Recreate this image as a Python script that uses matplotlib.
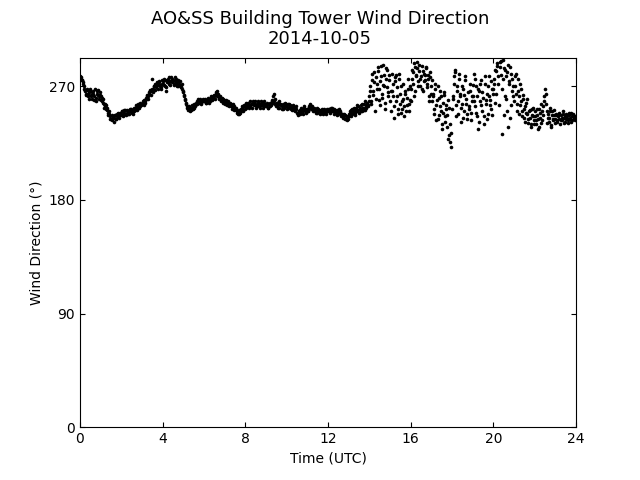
import numpy as np
import matplotlib
matplotlib.use("Agg")
import matplotlib.pyplot as plt

# wind direction (deg), one row per hour (UTC)
# "a" rows: readings on the 3-minute marks, "b" rows: readings 1.5 minutes later
h00a = [278, 276, 275, 272, 268, 266, 264, 267, 262, 265, 268, 263, 260, 266, 262, 258, 264, 267, 262, 265]
h01a = [262, 258, 260, 256, 254, 255, 251, 249, 250, 246, 244, 243, 246, 245, 247, 244, 248, 246, 247, 249]
h02a = [248, 250, 247, 249, 251, 249, 248, 250, 252, 250, 249, 251, 253, 251, 252, 254, 253, 255, 254, 256]
h03a = [256, 257, 259, 258, 261, 263, 262, 265, 267, 266, 276, 268, 270, 272, 269, 271, 273, 270, 268, 272]
h04a = [274, 271, 275, 266, 273, 276, 272, 274, 277, 273, 275, 271, 274, 276, 272, 270, 273, 271, 269, 268]
h05a = [265, 262, 259, 256, 254, 252, 253, 251, 252, 254, 253, 255, 256, 258, 257, 259, 258, 257, 259, 258]
h06a = [258, 259, 257, 259, 258, 260, 259, 261, 260, 262, 261, 263, 265, 262, 263, 260, 259, 258, 260, 257]
h07a = [258, 256, 257, 255, 256, 257, 254, 255, 253, 254, 252, 251, 249, 250, 248, 251, 252, 253, 251, 254]
h08a = [255, 253, 256, 257, 255, 254, 256, 258, 257, 255, 253, 256, 257, 254, 256, 258, 255, 257, 254, 256]
h09a = [254, 256, 253, 255, 257, 256, 259, 262, 258, 256, 254, 257, 255, 253, 256, 254, 252, 255, 257, 254]
h10a = [255, 253, 256, 254, 252, 253, 255, 251, 253, 252, 249, 247, 250, 251, 249, 252, 250, 253, 251, 250]
h11a = [252, 250, 254, 255, 253, 252, 253, 250, 251, 249, 252, 250, 248, 251, 249, 250, 252, 249, 251, 250]
h12a = [250, 252, 249, 251, 253, 250, 248, 251, 249, 247, 250, 252, 249, 246, 248, 245, 247, 244, 243, 246]
h13a = [248, 250, 246, 252, 249, 251, 247, 253, 250, 254, 249, 252, 255, 250, 253, 256, 251, 254, 257, 255]
h14a = [262, 270, 258, 275, 266, 281, 260, 272, 285, 268, 255, 278, 264, 287, 270, 252, 276, 283, 265, 279]
h15a = [258, 250, 266, 272, 254, 277, 279, 262, 248, 276, 256, 270, 252, 260, 246, 264, 255, 268, 250, 259]
h16a = [268, 276, 281, 262, 285, 279, 289, 274, 282, 270, 278, 286, 266, 280, 275, 284, 272, 279, 262, 277]
h17a = [270, 258, 264, 248, 272, 255, 244, 261, 266, 250, 240, 257, 263, 246, 252, 238, 259, 231, 226, 222]
h18a = [252, 262, 278, 283, 246, 270, 258, 280, 264, 242, 256, 268, 250, 275, 260, 244, 254, 266, 249, 258]
h19a = [262, 280, 254, 270, 246, 236, 266, 258, 275, 250, 261, 240, 272, 256, 264, 248, 278, 259, 252, 268]
h20a = [268, 276, 257, 282, 286, 272, 289, 279, 232, 291, 284, 262, 278, 250, 287, 274, 245, 280, 266, 270]
h21a = [258, 278, 264, 250, 276, 262, 255, 268, 246, 260, 252, 242, 257, 248, 244, 251, 240, 247, 253, 243]
h22a = [246, 240, 252, 244, 238, 249, 256, 243, 247, 262, 268, 256, 241, 248, 245, 253, 239, 250, 244, 247]
h23a = [244, 247, 242, 246, 249, 243, 245, 248, 241, 246, 244, 247, 243, 249, 245, 242, 246, 248, 244, 246]

h00b = [277, 275, 273, 270, 267, 263, 268, 264, 260, 266, 262, 265, 264, 259, 268, 261, 266, 263, 260, 263]
h01b = [259, 261, 257, 253, 256, 252, 253, 247, 248, 244, 247, 245, 242, 247, 244, 246, 249, 245, 248, 247]
h02b = [250, 246, 251, 248, 247, 251, 250, 248, 250, 252, 251, 248, 250, 253, 255, 251, 256, 253, 257, 255]
h03b = [258, 255, 257, 260, 262, 260, 264, 266, 263, 268, 265, 270, 267, 271, 273, 268, 274, 271, 269, 275]
h04b = [272, 276, 270, 269, 275, 273, 277, 271, 274, 276, 272, 277, 273, 270, 275, 271, 274, 269, 272, 266]
h05b = [263, 260, 257, 253, 251, 254, 250, 253, 255, 252, 256, 254, 257, 256, 260, 257, 260, 256, 258, 260]
h06b = [260, 257, 259, 261, 257, 258, 262, 259, 261, 263, 260, 264, 266, 264, 261, 262, 258, 261, 257, 259]
h07b = [256, 259, 255, 258, 254, 255, 256, 252, 256, 251, 253, 250, 248, 251, 249, 250, 254, 250, 255, 252]
h08b = [257, 254, 255, 253, 258, 256, 253, 257, 255, 258, 255, 254, 258, 256, 253, 255, 257, 253, 258, 255]
h09b = [257, 253, 256, 254, 255, 258, 257, 264, 260, 255, 257, 253, 258, 256, 255, 252, 256, 253, 255, 256]
h10b = [252, 256, 253, 255, 254, 251, 254, 253, 250, 254, 248, 250, 248, 253, 251, 248, 254, 251, 249, 252]
h11b = [250, 253, 256, 252, 254, 250, 251, 252, 249, 253, 250, 251, 250, 249, 252, 248, 251, 250, 248, 252]
h12b = [252, 250, 253, 250, 251, 252, 250, 249, 251, 248, 251, 250, 247, 248, 246, 248, 244, 246, 245, 244]
h13b = [246, 249, 251, 248, 250, 253, 249, 251, 255, 251, 253, 250, 256, 253, 251, 258, 253, 256, 254, 258]
h14b = [266, 256, 280, 263, 273, 250, 277, 268, 282, 259, 274, 286, 261, 271, 279, 257, 284, 269, 262, 275]
h15b = [266, 280, 262, 245, 274, 258, 269, 252, 280, 264, 249, 258, 272, 254, 266, 250, 261, 276, 256, 270]
h16b = [258, 283, 272, 288, 266, 278, 284, 270, 287, 276, 268, 282, 274, 279, 285, 269, 276, 258, 281, 264]
h17b = [275, 262, 252, 268, 243, 259, 270, 247, 254, 262, 236, 249, 265, 242, 255, 247, 228, 253, 240, 233]
h18b = [260, 272, 281, 255, 266, 248, 276, 262, 253, 270, 245, 263, 278, 256, 248, 265, 252, 272, 243, 262]
h19b = [271, 258, 276, 249, 262, 268, 242, 272, 255, 265, 246, 278, 259, 244, 270, 262, 255, 274, 247, 264]
h20b = [272, 283, 264, 288, 278, 255, 285, 290, 268, 276, 247, 283, 260, 281, 238, 272, 285, 255, 276, 262]
h21b = [270, 280, 256, 266, 248, 272, 258, 250, 263, 245, 254, 249, 260, 241, 250, 245, 238, 252, 246, 240]
h22b = [250, 243, 247, 236, 252, 245, 241, 250, 254, 258, 264, 250, 245, 242, 250, 238, 247, 243, 251, 241]
h23b = [248, 243, 247, 244, 240, 247, 243, 250, 245, 242, 248, 245, 241, 247, 244, 249, 243, 247, 245, 243]

rows_a = [h00a, h01a, h02a, h03a, h04a, h05a, h06a, h07a, h08a, h09a, h10a, h11a,
          h12a, h13a, h14a, h15a, h16a, h17a, h18a, h19a, h20a, h21a, h22a, h23a]
rows_b = [h00b, h01b, h02b, h03b, h04b, h05b, h06b, h07b, h08b, h09b, h10b, h11b,
          h12b, h13b, h14b, h15b, h16b, h17b, h18b, h19b, h20b, h21b, h22b, h23b]

dir_a = np.concatenate(rows_a)
dir_b = np.concatenate(rows_b)
direction = np.empty(dir_a.size * 2)
direction[0::2] = dir_a
direction[1::2] = dir_b
hours = np.arange(direction.size) * 1.5 / 60.0

fig, ax = plt.subplots(figsize=(6.4, 4.8), dpi=100)
ax.plot(hours, direction, 'ko', ms=2.6, mew=0)
fig.suptitle("AO&SS Building Tower Wind Direction\n2014-10-05", fontsize=13)
ax.set_xlim(0, 24)
ax.set_ylim(0, 292.6)
ax.set_xticks([0, 4, 8, 12, 16, 20, 24])
ax.set_yticks([0, 90, 180, 270])
ax.tick_params(direction='in', top=True, right=True)
ax.set_xlabel("Time (UTC)")
ax.set_ylabel("Wind Direction (°)")
plt.savefig("out.png")
